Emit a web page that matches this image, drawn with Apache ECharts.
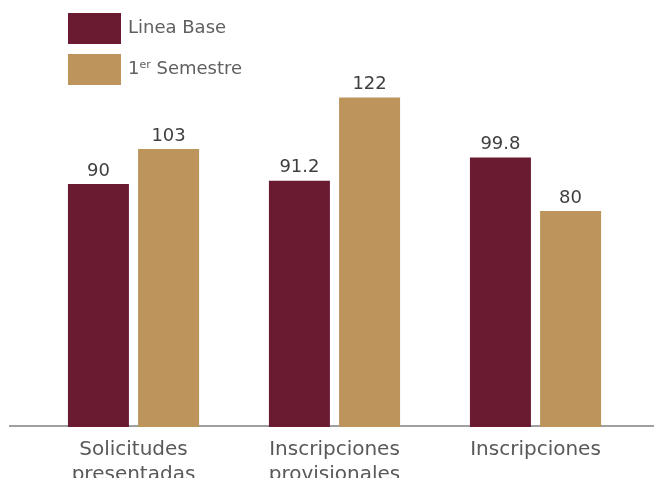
<!DOCTYPE html>
<html>
<head>
<meta charset="utf-8">
<script src="https://cdn.jsdelivr.net/npm/echarts@6/dist/echarts.min.js"></script>
<style>
  html, body { margin: 0; padding: 0; background: #fff; }
  #main { width: 654px; height: 478px; }
</style>
</head>
<body>
<div id="main"></div>
<script>
// categorias del eje x
var categorias = ['Solicitudes\npresentadas', 'Inscripciones\nprovisionales', 'Inscripciones'];

// series
var lineaBase = [90, 91.2, 99.8];
var primerSemestre = [103, 122, 80];

var colorBase = '#6a1b32',
    colorSemestre = '#bd955c',
    fuente = 'DejaVu Sans';

var myChart = echarts.init(document.getElementById('main'));

var option = {
  animation: false,
  grid: { left: 33, right: 18, top: 22, bottom: 51, outerBoundsMode: 'none', containLabel: false },
  legend: {
    orient: 'vertical',
    left: 68,
    top: 13,
    padding: 0,
    itemWidth: 53,
    itemHeight: 31,
    itemGap: 10,
    icon: 'rect',
    textStyle: {
      fontFamily: fuente,
      fontSize: 18,
      color: '#606060',
      rich: {
        n: { fontFamily: fuente, fontSize: 18, color: '#606060' },
        p: { fontFamily: fuente, fontSize: 18, color: '#606060', padding: [0, 0, 0, 2] },
        sup: { fontFamily: fuente, fontSize: 11, color: '#606060', verticalAlign: 'top', padding: [0, 0, 8, 0] }
      }
    },
    formatter: function (name) {
      if (name === '1er Semestre') return '{p|1}{sup|er}{n| Semestre}';
      return '{p|' + name + '}';
    },
    data: ['Linea Base', '1er Semestre']
  },
  xAxis: {
    type: 'category',
    data: categorias,
    axisLine: { show: false },
    axisTick: { show: false },
    axisLabel: {
      fontFamily: fuente,
      fontSize: 20,
      color: '#595959',
      lineHeight: 25,
      margin: 10
    }
  },
  yAxis: {
    type: 'value',
    min: 0,
    max: 150,
    show: false,
    splitLine: { show: false }
  },
  graphic: [{
    type: 'line',
    shape: { x1: 9, y1: 426, x2: 654, y2: 426 },
    style: { stroke: '#a0a0a0', lineWidth: 2 },
    z: 0
  }],
  series: [{
    name: 'Linea Base',
    type: 'bar',
    data: lineaBase,
    barWidth: 61,
    barGap: '15%',
    itemStyle: { color: colorBase },
    z: 3,
    label: {
      show: true,
      position: 'top',
      distance: 4,
      fontFamily: fuente,
      fontSize: 18,
      color: '#404040'
    }
  }, {
    name: '1er Semestre',
    type: 'bar',
    data: primerSemestre,
    barWidth: 61,
    itemStyle: { color: colorSemestre },
    z: 3,
    label: {
      show: true,
      position: 'top',
      distance: 4,
      fontFamily: fuente,
      fontSize: 18,
      color: '#404040'
    }
  }]
};

myChart.setOption(option);
</script>
</body>
</html>
